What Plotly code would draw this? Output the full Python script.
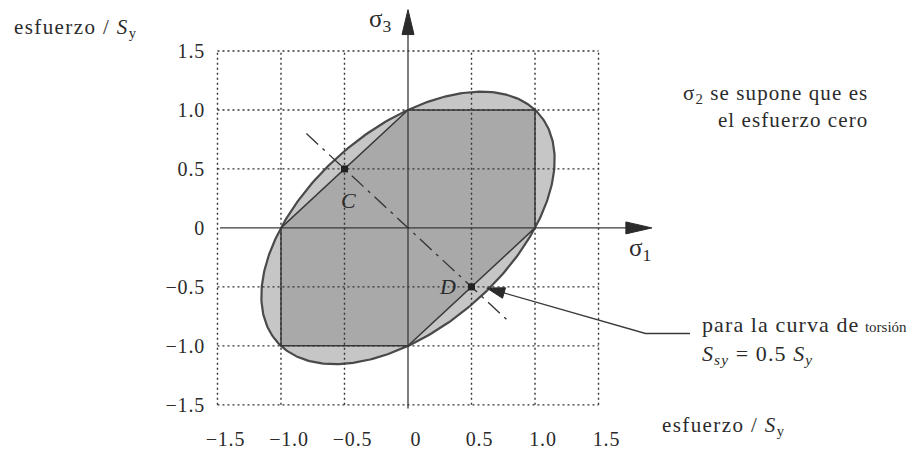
import numpy as np
import plotly.graph_objects as go

# Normalised yield strength and von Mises ellipse geometry (sigma2 = 0)
S_y = 1.0
ellipse_a = np.sqrt(2.0) * S_y          # semi-axis along sigma1 = sigma3
ellipse_b = np.sqrt(2.0 / 3.0) * S_y    # semi-axis along sigma1 = -sigma3
ellipse_angle_deg = 45.0

# Tresca (maximum shear stress) hexagon in the sigma1-sigma3 plane
hex_s1 = [1.0, 1.0, 0.0, -1.0, -1.0, 0.0, 1.0]
hex_s3 = [0.0, 1.0, 1.0, 0.0, -1.0, -1.0, 0.0]

# Pure-shear load line and torsion yield points C and D
shear_s1 = [-0.8, 0.8]
shear_s3 = [0.8, -0.8]
point_names = ["C", "D"]
point_s1 = [-0.5, 0.5]
point_s3 = [0.5, -0.5]
label_s1 = [-0.47, 0.31]
label_s3 = [0.23, -0.50]

# Axes ticks and dotted grid
tick_vals = [-1.5, -1.0, -0.5, 0.0, 0.5, 1.0, 1.5]
tick_text = ["\u22121.5", "\u22121.0", "\u22120.5", "0", "0.5", "1.0", "1.5"]
grid_vals = [-1.5, -1.0, -0.5, 0.5, 1.0, 1.5]
grid_lo, grid_hi = -1.5, 1.5

# Stress axes (with arrow tips)
s1_axis = [-1.48, 1.92]
s3_axis = [-1.53, 1.85]

# Layout geometry
W, H = 921, 450
M_L, M_R, M_T, M_B = 211, 0, 0, 31
X_RANGE = [-1.551, 4.039]
Y_RANGE = [-1.603, 1.932]
PX_X = (W - M_L - M_R) / (X_RANGE[1] - X_RANGE[0])
PX_Y = (H - M_T - M_B) / (Y_RANGE[1] - Y_RANGE[0])

FONT = "Liberation Serif, Times New Roman, serif"
INK = "#2b2b2b"


def spaced(text, px=1.1):
    """Wrap text in a span with a little extra letter spacing."""
    return f"<span style='letter-spacing:{px}px'>{text}</span>"


def arrow_head(tip_x, tip_y, dir_x_px, dir_y_px, length_px, half_w_px):
    """Filled triangle whose tip sits at (tip_x, tip_y), pointing along dir."""
    n = np.hypot(dir_x_px, dir_y_px)
    ux, uy = dir_x_px / n, dir_y_px / n
    bx, by = -ux * length_px, -uy * length_px
    px, py = -uy * half_w_px, ux * half_w_px
    xs = [tip_x, tip_x + (bx + px) / PX_X, tip_x + (bx - px) / PX_X, tip_x]
    ys = [tip_y, tip_y + (by + py) / PX_Y, tip_y + (by - py) / PX_Y, tip_y]
    return go.Scatter(x=xs, y=ys, mode="lines", fill="toself",
                      fillcolor=INK, line=dict(color=INK, width=1),
                      hoverinfo="skip", showlegend=False)


# von Mises ellipse points
t = np.linspace(0.0, 2.0 * np.pi, 361)
phi = np.radians(ellipse_angle_deg)
u, w = ellipse_a * np.cos(t), ellipse_b * np.sin(t)
ell_s1 = u * np.cos(phi) - w * np.sin(phi)
ell_s3 = u * np.sin(phi) + w * np.cos(phi)

fig = go.Figure()

# Distortion-energy (von Mises) region
fig.add_trace(go.Scatter(x=ell_s1, y=ell_s3, mode="lines", fill="toself",
                         fillcolor="#c6c6c6", line=dict(color="#4a4a4a", width=2.2),
                         hoverinfo="skip", showlegend=False))
# Maximum-shear (Tresca) region
fig.add_trace(go.Scatter(x=hex_s1, y=hex_s3, mode="lines", fill="toself",
                         fillcolor="#a9a9a9", line=dict(color="#3a3a3a", width=1.5),
                         hoverinfo="skip", showlegend=False))

# Dotted grid
gx, gy = [], []
for g in grid_vals:
    gx += [g, g, None, grid_lo, grid_hi, None]
    gy += [grid_lo, grid_hi, None, g, g, None]
fig.add_trace(go.Scatter(x=gx, y=gy, mode="lines",
                         line=dict(color="#333333", width=1.4, dash="2px,3px"),
                         hoverinfo="skip", showlegend=False))

# Stress axes
fig.add_trace(go.Scatter(x=[s1_axis[0], s1_axis[1] - 0.1, None, 0, 0],
                         y=[0, 0, None, s3_axis[0], s3_axis[1] - 0.1],
                         mode="lines", line=dict(color="#3a3a3a", width=1.3),
                         hoverinfo="skip", showlegend=False))
fig.add_trace(arrow_head(0.0, s3_axis[1], 0, 1, 25, 6))
fig.add_trace(arrow_head(s1_axis[1], 0.0, 1, 0, 26, 6))

# Pure-shear line through C and D
fig.add_trace(go.Scatter(x=shear_s1, y=shear_s3, mode="lines",
                         line=dict(color="#333333", width=1.3, dash="16px,6px,3px,6px"),
                         hoverinfo="skip", showlegend=False))
fig.add_trace(go.Scatter(x=point_s1, y=point_s3, mode="markers",
                         marker=dict(symbol="square", size=7, color="#222222"),
                         hoverinfo="skip", showlegend=False))

# Leader to point D
lead_x = [2.22, 1.87, 0.62]
lead_y = [-0.895, -0.895, -0.51]
fig.add_trace(go.Scatter(x=lead_x[:2] + [lead_x[2] + 0.1], y=lead_y[:2] + [lead_y[2] - 0.03],
                         mode="lines", line=dict(color="#3a3a3a", width=1.3),
                         hoverinfo="skip", showlegend=False))
fig.add_trace(arrow_head(lead_x[2], lead_y[2],
                         (lead_x[2] - lead_x[1]) * PX_X, (lead_y[2] - lead_y[1]) * PX_Y,
                         18, 5.5))

axis_label = spaced("esfuerzo / <i>S</i><sub>y</sub>", 1.4)

ann = []
for name, x, y in zip(point_names, label_s1, label_s3):
    ann.append(dict(x=x, y=y, text=f"<i>{name}</i>", showarrow=False,
                    font=dict(size=22)))
ann += [
    dict(xref="paper", yref="paper", x=-0.280, y=0.933, xanchor="left",
         yanchor="middle", text=axis_label, showarrow=False, font=dict(size=21)),
    dict(xref="paper", yref="paper", x=0.632, y=-0.022, xanchor="left",
         yanchor="middle", text=axis_label, showarrow=False, font=dict(size=21)),
    dict(x=-0.22, y=1.76, text="\u03c3<sub>3</sub>", showarrow=False, font=dict(size=25)),
    dict(x=1.83, y=-0.18, text="\u03c3<sub>1</sub>", showarrow=False, font=dict(size=25)),
    dict(x=3.64, y=1.03, xanchor="right", align="right",
         text=spaced("\u03c3<sub>2</sub> se supone que es") + "<br>"
              + spaced("el esfuerzo cero"),
         showarrow=False, font=dict(size=21)),
    dict(x=2.30, y=-0.95, xanchor="left", align="left",
         text=spaced("para la curva de") + " <span style='font-size:15px'>torsión</span><br>"
              + spaced("<i>S<sub>sy</sub></i> = 0.5 <i>S<sub>y</sub></i>"),
         showarrow=False, font=dict(size=22)),
]

axis_common = dict(tickvals=tick_vals, ticktext=[spaced(s, 0.8) for s in tick_text],
                   showgrid=False, zeroline=False, showline=False, ticks="outside",
                   tickcolor="rgba(0,0,0,0)",
                   tickfont=dict(size=20, color=INK), fixedrange=True)
fig.update_layout(
    width=W, height=H,
    margin=dict(l=M_L, r=M_R, t=M_T, b=M_B),
    paper_bgcolor="white", plot_bgcolor="white",
    font=dict(family=FONT, color=INK),
    xaxis=dict(range=X_RANGE, ticklabelshift=8, ticklen=4, **axis_common),
    yaxis=dict(range=Y_RANGE, ticklen=1, **axis_common),
    annotations=ann,
    showlegend=False,
)

fig.write_html("out.html")
